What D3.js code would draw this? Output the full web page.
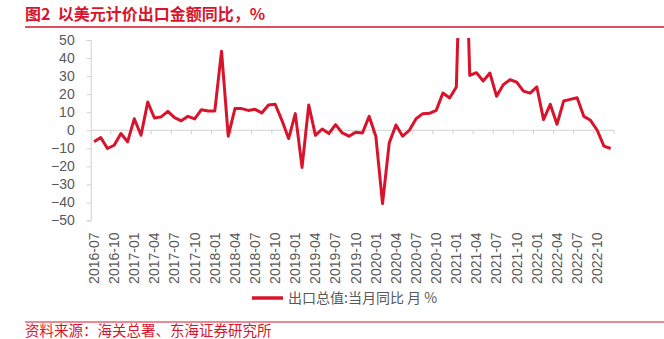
<!DOCTYPE html>
<html>
<head>
<meta charset="utf-8">
<script src="https://cdn.jsdelivr.net/npm/d3@7"></script>
<style>
  html, body { margin: 0; padding: 0; background: #fff; }
  svg { display: block; font-family: "Noto Sans CJK SC", "Liberation Sans", Arial, sans-serif; }
</style>
</head>
<body>
<svg id="chart" width="664" height="339"></svg>
<script>
// Monthly categories, 2016-07 .. 2022-12
const months = [
  "2016-07","2016-08","2016-09","2016-10","2016-11","2016-12",
  "2017-01","2017-02","2017-03","2017-04","2017-05","2017-06","2017-07","2017-08","2017-09","2017-10","2017-11","2017-12",
  "2018-01","2018-02","2018-03","2018-04","2018-05","2018-06","2018-07","2018-08","2018-09","2018-10","2018-11","2018-12",
  "2019-01","2019-02","2019-03","2019-04","2019-05","2019-06","2019-07","2019-08","2019-09","2019-10","2019-11","2019-12",
  "2020-01","2020-02","2020-03","2020-04","2020-05","2020-06","2020-07","2020-08","2020-09","2020-10","2020-11","2020-12",
  "2021-01","2021-02","2021-03","2021-04","2021-05","2021-06","2021-07","2021-08","2021-09","2021-10","2021-11","2021-12",
  "2022-01","2022-02","2022-03","2022-04","2022-05","2022-06","2022-07","2022-08","2022-09","2022-10","2022-11","2022-12"
];

// 出口总值:当月同比 (%)
const exportYoY = [
  -6.4, -4.0, -10.1, -8.3, -1.8, -6.4,
  6.4, -2.8, 15.6, 6.8, 7.4, 10.5, 7.0, 5.2, 7.7, 6.3, 11.4, 10.7,
  10.7, 43.8, -3.3, 12.0, 12.0, 11.0, 11.6, 9.6, 14.0, 14.4, 5.5, -4.6,
  9.2, -20.6, 14.0, -2.8, 0.7, -1.8, 3.1, -1.5, -3.3, -1.1, -1.5, 7.7,
  -3.3, -40.6, -7.0, 2.9, -3.3, 0.0, 6.4, 9.2, 9.4, 11.0, 20.6, 17.9,
  24.0, 154.9, 30.4, 31.9, 27.3, 31.7, 18.8, 25.2, 28.0, 26.7, 21.7, 20.6,
  24.0, 5.9, 14.4, 3.3, 16.2, 17.1, 18.0, 7.7, 5.5, 0.0, -8.8, -10.1
];

// Labelled months on the category axis
const tickLabels = [
  "2016-07","2016-10","2017-01","2017-04","2017-07","2017-10","2018-01","2018-04","2018-07",
  "2018-10","2019-01","2019-04","2019-07","2019-10","2020-01","2020-04","2020-07","2020-10",
  "2021-01","2021-04","2021-07","2021-10","2022-01","2022-04","2022-07","2022-10"
];
const yTicks = [50, 40, 30, 20, 10, 0, -10, -20, -30, -40, -50];

const titleText = "图2  以美元计价出口金额同比，%";
const seriesName = "出口总值:当月同比 月 %";
const sourceText = "资料来源：海关总署、东海证券研究所";

const RED = "#d8142d";
const AXIS = "#d0d0d0";
const TXT = "#595959";

const svg = d3.select("#chart");

const plot = { left: 90.7, right: 614, top: 40, bottom: 220.5 };

const x = d3.scaleBand().domain(months).range([plot.left, plot.right]).padding(0);
const y = d3.scaleLinear().domain([-50, 50]).range([plot.bottom, plot.top]);
const cx = m => x(m) + x.bandwidth() / 2;

// Title and rule beneath it
svg.append("text")
  .attr("x", 25).attr("y", 20)
  .attr("fill", RED).attr("font-size", 16).attr("font-weight", "bold")
  .attr("xml:space", "preserve")
  .text(titleText);
svg.append("line")
  .attr("x1", 25).attr("x2", 664).attr("y1", 27).attr("y2", 27)
  .attr("stroke", RED).attr("stroke-width", 1.5);

// Y axis
const yAxis = d3.axisLeft(y).tickValues(yTicks).tickSize(4).tickPadding(12);
const gy = svg.append("g").attr("transform", `translate(${plot.left},0)`).call(yAxis);
gy.select(".domain").attr("stroke", AXIS);
gy.selectAll(".tick line").attr("stroke", AXIS);
gy.selectAll(".tick text").attr("fill", TXT).attr("font-size", 14)
  .attr("font-family", "'Liberation Sans', Arial, sans-serif");

// Category axis drawn at zero: ticks on every third month boundary
const boundaryMonths = months.filter((m, i) => i % 3 === 0);
const zeroY = y(0);
svg.append("line")
  .attr("x1", plot.left).attr("x2", plot.right)
  .attr("y1", zeroY).attr("y2", zeroY)
  .attr("stroke", AXIS).attr("stroke-width", 1);
svg.append("g").selectAll("line")
  .data(boundaryMonths.slice(1).map(m => x(m)).concat([plot.right]))
  .join("line")
  .attr("x1", d => d).attr("x2", d => d)
  .attr("y1", zeroY).attr("y2", zeroY + 4)
  .attr("stroke", AXIS);

// Month labels along the bottom, rotated
const xAxis = d3.axisBottom(x).tickValues(tickLabels).tickSize(0).tickPadding(0);
const gx = svg.append("g").attr("transform", `translate(0,${plot.bottom + 10})`).call(xAxis);
gx.select(".domain").remove();
gx.selectAll(".tick text")
  .attr("fill", TXT).attr("font-size", 14)
  .attr("font-family", "'Liberation Sans', Arial, sans-serif")
  .attr("transform", "rotate(-90)")
  .attr("text-anchor", "end")
  .attr("x", -2).attr("y", 0).attr("dy", "0.35em");

// Series line, clipped to the plot area
svg.append("clipPath").attr("id", "plotClip")
  .append("rect")
  .attr("x", plot.left - 5).attr("y", plot.top - 2)
  .attr("width", plot.right - plot.left + 10).attr("height", plot.bottom - plot.top + 4);

const line = d3.line()
  .x((d, i) => cx(months[i]))
  .y(d => y(d));

svg.append("path")
  .datum(exportYoY)
  .attr("clip-path", "url(#plotClip)")
  .attr("fill", "none")
  .attr("stroke", RED)
  .attr("stroke-width", 3)
  .attr("stroke-linejoin", "round")
  .attr("d", line);

// Legend
const lg = svg.append("g").attr("transform", "translate(252,298)");
lg.append("line").attr("x1", 0).attr("x2", 31).attr("y1", 0).attr("y2", 0)
  .attr("stroke", RED).attr("stroke-width", 3.5);
lg.append("text").attr("x", 36).attr("y", 5)
  .attr("fill", TXT).attr("font-size", 14)
  .text(seriesName);

// Source line
svg.append("line")
  .attr("x1", 25).attr("x2", 664).attr("y1", 322).attr("y2", 322)
  .attr("stroke", RED).attr("stroke-width", 1.2);
svg.append("text")
  .attr("x", 25).attr("y", 336)
  .attr("fill", RED).attr("font-size", 14.5)
  .text(sourceText);
</script>
</body>
</html>
